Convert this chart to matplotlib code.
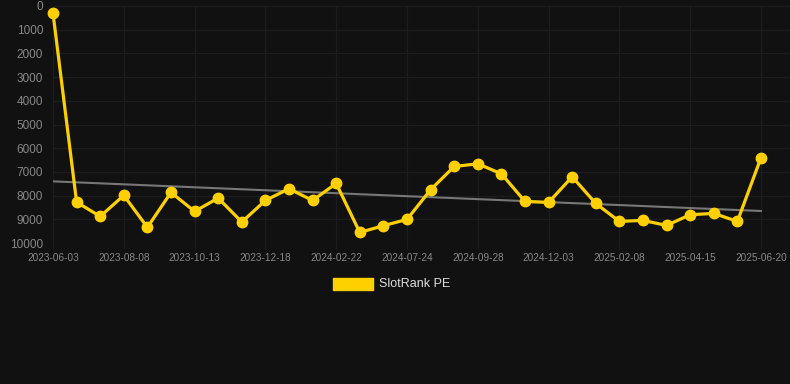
import numpy as np
import matplotlib.pyplot as plt

plt.rcParams['font.family'] = ['Liberation Sans', 'DejaVu Sans']

# SlotRank PE values (lower rank drawn at top, y axis reversed)
dates = ['2023-06-03', '2023-07-05', '2023-07-06', '2023-08-08', '2023-08-20', '2023-09-10',
         '2023-10-13', '2023-11-01', '2023-11-25', '2023-12-18', '2024-01-10', '2024-02-01',
         '2024-02-22', '2024-04-01', '2024-06-01', '2024-07-24', '2024-08-10', '2024-09-05',
         '2024-09-28', '2024-10-20', '2024-11-10', '2024-12-03', '2024-12-25', '2025-01-15',
         '2025-02-08', '2025-03-01', '2025-03-20', '2025-04-15', '2025-05-05', '2025-05-28',
         '2025-06-20']
rank = [300, 8275, 8880, 7990, 9340, 7866, 8667, 8104, 9115, 8204, 7712, 8204, 7488,
        9553, 9271, 9005, 7754, 6771, 6658, 7080, 8246, 8289, 7206, 8331, 9089, 9047,
        9258, 8807, 8751, 9089, 6405]
label_every = 3

bg = '#111111'
x = np.arange(len(rank))
slope, icpt = np.polyfit(x, rank, 1)
trend = slope * x + icpt

fig = plt.figure(figsize=(7.9, 3.84), dpi=100, facecolor=bg)
ax = fig.add_axes([53 / 790, 1 - 243 / 384, 737 / 790, 237 / 384])
ax.set_facecolor(bg)

ax.plot(x, trend, color='#777777', lw=1.5, zorder=2)
ax.plot(x, rank, color='#ffd000', lw=2.3, marker='o', ms=7.5, zorder=3, clip_on=False)

ax.set_ylim(10000, 0)
ax.set_xlim(0, 31.23)
ax.set_yticks(range(0, 10001, 1000))
ax.set_xticks(x[::label_every])
ax.set_xticklabels(dates[::label_every])

ax.grid(True, color='#1d1d1d', lw=0.9)
for s in ax.spines.values():
    s.set_visible(False)
ax.tick_params(axis='y', colors='#888888', labelsize=8.5, length=0, pad=7)
ax.tick_params(axis='x', colors='#1d1d1d', labelcolor='#888888', labelsize=7.2,
               length=4, width=0.9, pad=3)

# legend box and text
fig.patches.append(plt.Rectangle((333 / 790, 1 - 290 / 384), 40 / 790, 12 / 384,
                                 transform=fig.transFigure, color='#ffd000'))
fig.text(379 / 790, 1 - 284 / 384, 'SlotRank PE', color='#dddddd', fontsize=9,
         va='center', ha='left')

fig.savefig('out.png', dpi=100, facecolor=bg)
